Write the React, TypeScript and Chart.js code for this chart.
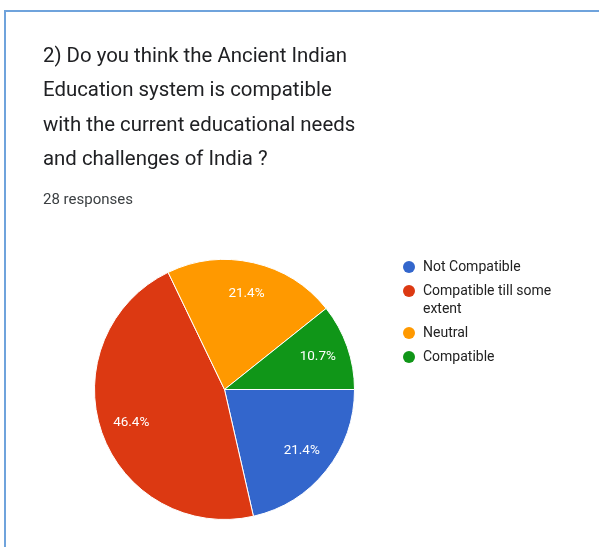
import React, { useEffect, useRef } from "react";
import { Chart, registerables } from "chart.js";

Chart.register(...registerables);

const categories = ["Not Compatible", "Compatible till some extent", "Neutral", "Compatible"];
const responses = [6, 13, 6, 3];
const percentLabels = ["21.4%", "46.4%", "21.4%", "10.7%"];
const sliceColors = ["#3366cc", "#dc3912", "#ff9900", "#109618"];
const titleLines = [
  "2) Do you think the Ancient Indian",
  "Education system is compatible",
  "with the current educational needs",
  "and challenges of India ?",
];
const subtitleText = "28 responses";

const FONT = "Roboto, 'Noto Sans', Arial, sans-serif";

const sliceLabelPlugin = {
  id: "sliceLabels",
  afterDatasetsDraw(chart: any) {
    const ctx = chart.ctx;
    const meta = chart.getDatasetMeta(0);
    ctx.save();
    ctx.fillStyle = "#ffffff";
    ctx.font = `13.5px ${FONT}`;
    ctx.textAlign = "center";
    ctx.textBaseline = "middle";
    meta.data.forEach((arc: any, i: number) => {
      const p = arc.getProps(["x", "y", "startAngle", "endAngle", "outerRadius"], true);
      const mid = (p.startAngle + p.endAngle) / 2;
      const r = p.outerRadius * 0.76;
      ctx.fillText(percentLabels[i], p.x + Math.cos(mid) * r, p.y + Math.sin(mid) * r);
    });
    ctx.restore();
  },
};

const legendPlugin = {
  id: "sideLegend",
  afterDraw(chart: any) {
    const ctx = chart.ctx;
    const area = chart.chartArea;
    const dotX = area.right + 52;
    const textX = dotX + 14;
    const maxW = 140;
    const lineH = 18;
    const step = 24;
    let y = area.top + 8;
    ctx.save();
    ctx.font = `14px ${FONT}`;
    ctx.textBaseline = "middle";
    ctx.textAlign = "left";
    categories.forEach((label, i) => {
      const words = label.split(" ");
      const lines: string[] = [];
      let cur = "";
      words.forEach((w) => {
        const t = cur ? cur + " " + w : w;
        if (ctx.measureText(t).width > maxW && cur) {
          lines.push(cur);
          cur = w;
        } else cur = t;
      });
      if (cur) lines.push(cur);
      ctx.fillStyle = sliceColors[i];
      ctx.beginPath();
      ctx.arc(dotX, y, 6, 0, Math.PI * 2);
      ctx.fill();
      ctx.fillStyle = "#222222";
      lines.forEach((ln, j) => {
        ctx.fillText(ln, textX, y + j * lineH);
      });
      y += (lines.length - 1) * lineH + step;
    });
    ctx.restore();
  },
};

export default function App() {
  const ref = useRef<HTMLCanvasElement>(null);
  useEffect(() => {
    if (!ref.current) return;
    const chart = new Chart(ref.current, {
      type: "pie",
      data: {
        labels: categories,
        datasets: [
          {
            data: responses,
            backgroundColor: sliceColors,
            borderColor: "#ffffff",
            borderWidth: 1,
          },
        ],
      },
      options: {
        responsive: false,
        animation: false,
        rotation: 90,
        layout: { padding: { left: 92, top: 259, right: 242, bottom: 27 } },
        plugins: {
          legend: { display: false },
          tooltip: { enabled: false },
          title: { display: false },
        },
      },
      plugins: [sliceLabelPlugin, legendPlugin],
    });
    return () => chart.destroy();
  }, []);

  return (
    <div style={{ position: "fixed", left: 0, top: 0, width: 599, height: 547, background: "#fff", overflow: "hidden" }}>
      <div
        style={{
          position: "absolute",
          left: 4,
          top: 10,
          width: 640,
          height: 600,
          borderLeft: "2px solid #6fa3dc",
          borderTop: "2px solid #6fa3dc",
          boxSizing: "border-box",
        }}
      />
      <canvas ref={ref} width={599} height={547} style={{ position: "absolute", left: 0, top: 0 }} />
      <div
        style={{
          position: "absolute",
          left: 43,
          top: 38,
          fontFamily: FONT,
          fontSize: 20.4,
          lineHeight: "34.3px",
          color: "#202124",
          whiteSpace: "nowrap",
        }}
      >
        {titleLines.map((t, i) => (
          <div key={i}>{t}</div>
        ))}
      </div>
      <div
        style={{
          position: "absolute",
          left: 43,
          top: 189,
          fontFamily: FONT,
          fontSize: 15,
          lineHeight: "20px",
          color: "#3c4043",
          whiteSpace: "nowrap",
        }}
      >
        {subtitleText}
      </div>
    </div>
  );
}
